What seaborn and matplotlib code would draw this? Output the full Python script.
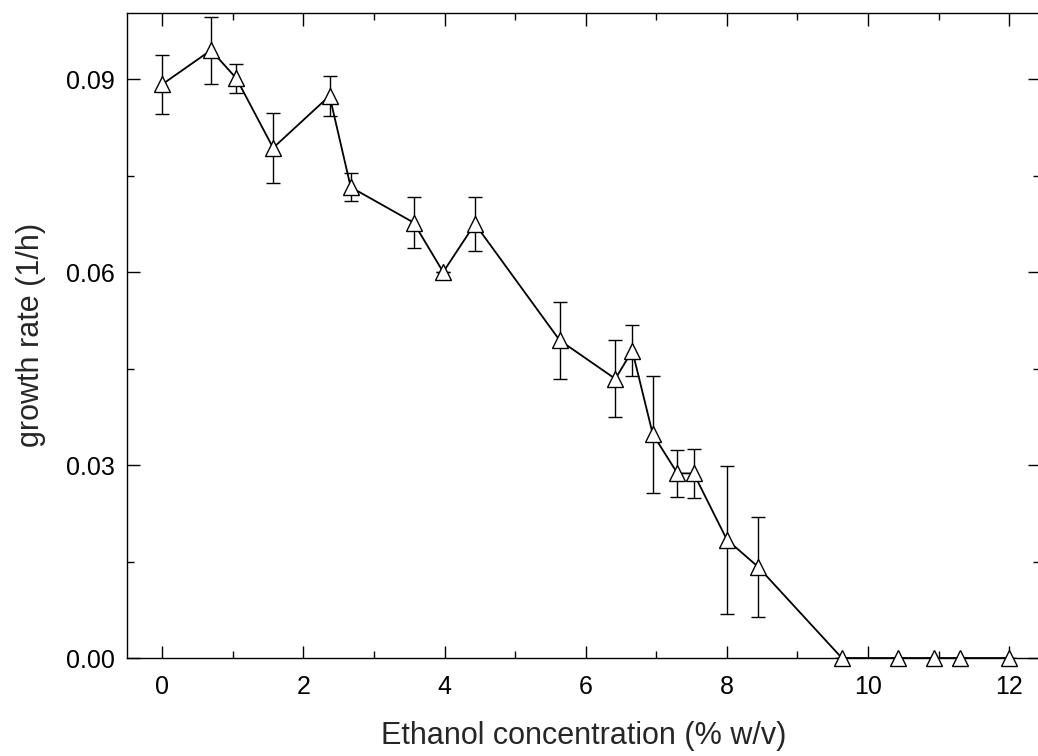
import numpy as np
import pandas as pd
import seaborn as sns
import matplotlib.pyplot as plt
from matplotlib.ticker import MultipleLocator, FormatStrFormatter

# ethanol concentration (% w/v)
ethanol = [0.0, 0.69, 1.05, 1.57, 2.37, 2.67, 3.56, 3.98, 4.43, 5.63, 6.42,
           6.66, 6.95, 7.30, 7.53, 8.00, 8.44, 9.63, 10.42, 10.94, 11.30, 12.0]
# growth rate (1/h)
growth = [0.0892, 0.0945, 0.0901, 0.0793, 0.0874, 0.0732, 0.0677, 0.0600, 0.0675,
          0.0494, 0.0434, 0.0478, 0.0348, 0.0287, 0.0287, 0.0184, 0.0142,
          0.0, 0.0, 0.0, 0.0, 0.0]
# error (+/-)
growth_err = [0.0046, 0.0052, 0.0023, 0.0055, 0.0031, 0.0022, 0.0040, 0.0, 0.0042,
              0.0060, 0.0060, 0.0040, 0.0091, 0.0037, 0.0038, 0.0115, 0.0078,
              0.0, 0.0, 0.0, 0.0, 0.0]

df = pd.DataFrame({"ethanol": ethanol, "growth": growth, "err": growth_err})

sns.set_style("ticks")
plt.rcParams["font.family"] = ["Liberation Sans", "DejaVu Sans"]

fig = plt.figure(figsize=(10.38, 7.56), dpi=100)
# right spine sits just past the image edge, as in the original
ax = fig.add_axes([0.1224, 0.1296, 0.8797, 0.8534])

# error bars first, then line + markers on top
ax.errorbar(df["ethanol"], df["growth"], yerr=df["err"], fmt="none",
            ecolor="black", elinewidth=1.0, capsize=5, capthick=1.0, zorder=2)
sns.lineplot(data=df, x="ethanol", y="growth", ax=ax, color="black",
             linewidth=1.3, marker="^", markersize=11.5, markerfacecolor="white",
             markeredgecolor="black", markeredgewidth=1.0, zorder=3,
             sort=False, estimator=None, clip_on=False)

ax.set_xlim(-0.5, 12.44)
ax.set_ylim(0, 0.1003)
ax.xaxis.set_major_locator(MultipleLocator(2))
ax.xaxis.set_minor_locator(MultipleLocator(1))
ax.yaxis.set_major_locator(MultipleLocator(0.03))
ax.yaxis.set_minor_locator(MultipleLocator(0.015))
ax.yaxis.set_major_formatter(FormatStrFormatter("%.2f"))

ax.tick_params(which="both", direction="in", top=True, right=True,
               labelsize=18, colors="black")
ax.tick_params(which="major", length=9, width=1.0)
ax.tick_params(which="minor", length=5, width=1.0)
ax.tick_params(axis="x", which="major", pad=12)
ax.tick_params(axis="y", which="major", pad=9)
for s in ax.spines.values():
    s.set_linewidth(1.0)
    s.set_color("black")

ax.set_xlabel("Ethanol concentration (% w/v)", fontsize=22, labelpad=16)
ax.set_ylabel("growth rate (1/h)", fontsize=22, labelpad=14)

fig.savefig("out.png", dpi=100)
